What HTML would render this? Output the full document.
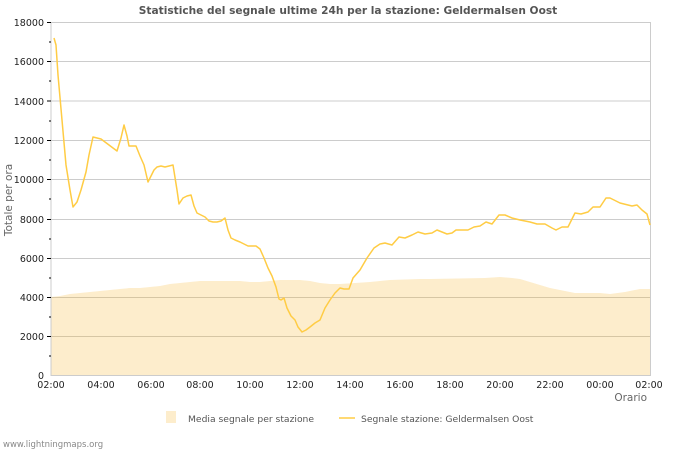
<!DOCTYPE html>
<html><head><meta charset="utf-8"><style>
html,body{margin:0;padding:0;background:#fff;width:700px;height:450px;overflow:hidden}
text{font-family:"DejaVu Sans","Liberation Sans",sans-serif}
</style></head><body>
<svg width="700" height="450" viewBox="0 0 700 450" xmlns="http://www.w3.org/2000/svg">
<text x="348" y="14" text-anchor="middle" font-size="10.6" font-weight="bold" fill="#555">Statistiche del segnale ultime 24h per la stazione: Geldermalsen Oost</text>
<polygon fill="#fdedcc" points="51,376 51,297 60,296 70,294 80,293 90,292 100,291 110,290 120,289 130,288 140,288 150,287 160,286 170,284 180,283 190,282 200,281 210,281 220,281 240,281 250,282 260,282 270,281 280,280 300,280 310,281 320,283 330,284 340,284 355,283 370,282 380,281 390,280 420,279 430,279 485,278 500,277 512,278 520,279 530,282 540,285 550,288 560,290 575,293 600,293 610,294 625,292 640,289 650,289 650,376"/>
<g stroke="#ccc" stroke-width="1">
<line x1="51" y1="22.5" x2="650" y2="22.5"/><line x1="51" y1="61.5" x2="650" y2="61.5"/><line x1="51" y1="101" x2="650" y2="101"/><line x1="51" y1="140.5" x2="650" y2="140.5"/><line x1="51" y1="179.5" x2="650" y2="179.5"/><line x1="51" y1="219.5" x2="650" y2="219.5"/><line x1="51" y1="258.5" x2="650" y2="258.5"/>
</g>
<g stroke="#d6c6a4" stroke-width="1"><line x1="51" y1="297.5" x2="650" y2="297.5"/><line x1="51" y1="336.5" x2="650" y2="336.5"/></g>
<line x1="650.5" y1="22" x2="650.5" y2="376" stroke="#ccc"/>
<line x1="51" y1="376" x2="51" y2="22" stroke="#ccc"/>
<line x1="51" y1="375.5" x2="650" y2="375.5" stroke="#ccc"/>
<polyline fill="none" stroke="#ffcc44" stroke-width="1.5" stroke-linejoin="round" points="54,38 56,45 58,75 62,120 66,165 70,190 73,207 77,202 81,190 86,172 89,155 93,137 97,138 101,139 105,142 109,145 113,148 117,151 121,138 124,125 127,136 129,146 133,146 136,146 140,156 144,165 148,182 151,176 154,170 157,167 161,166 165,167 169,166 173,165 177,190 179,204 183,198 187,196 191,195 194,206 197,213 201,215 205,217 209,221 213,222 217,222 221,221 225,218 228,230 231,238 235,240 240,242 244,244 248,246 252,246 256,246 260,249 264,258 268,268 272,276 276,287 279,299 281,300 284,298 287,308 291,316 295,320 298,327 302,332 306,330 310,327 315,323 320,320 325,308 330,300 335,293 340,288 344,289 349,289 353,278 360,270 367,258 374,248 380,244 385,243 392,245 399,237 405,238 412,235 418,232 425,234 432,233 437,230 442,232 447,234 452,233 456,230 468,230 474,227 480,226 486,222 492,224 499,215 505,215 512,218 520,220 530,222 537,224 545,224 552,228 556,230 562,227 568,227 575,213 581,214 588,212 593,207 600,207 606,198 610,198 614,200 620,203 628,205 632,206 637,205 642,210 647,214 650,225"/>
<g stroke="#000" stroke-width="1">
<line x1="47" y1="22.5" x2="51" y2="22.5"/><line x1="47" y1="61.5" x2="51" y2="61.5"/><line x1="47" y1="101" x2="51" y2="101"/><line x1="47" y1="140.5" x2="51" y2="140.5"/><line x1="47" y1="179.5" x2="51" y2="179.5"/><line x1="47" y1="219.5" x2="51" y2="219.5"/><line x1="47" y1="258.5" x2="51" y2="258.5"/><line x1="47" y1="297.5" x2="51" y2="297.5"/><line x1="47" y1="336.5" x2="51" y2="336.5"/>
<line x1="49" y1="42" x2="51" y2="42"/><line x1="49" y1="81" x2="51" y2="81"/><line x1="49" y1="121" x2="51" y2="121"/><line x1="49" y1="160" x2="51" y2="160"/><line x1="49" y1="199" x2="51" y2="199"/><line x1="49" y1="239" x2="51" y2="239"/><line x1="49" y1="278" x2="51" y2="278"/><line x1="49" y1="317" x2="51" y2="317"/><line x1="49" y1="356" x2="51" y2="356"/>
</g>
<g font-size="9.5" fill="#222" text-anchor="end">
<text x="44" y="26">18000</text><text x="44" y="65">16000</text><text x="44" y="105">14000</text><text x="44" y="144">12000</text><text x="44" y="183">10000</text><text x="44" y="223">8000</text><text x="44" y="262">6000</text><text x="44" y="301">4000</text><text x="44" y="340">2000</text><text x="44" y="379">0</text>
</g>
<g id="xt" stroke="#000" stroke-width="1"></g>
<g font-size="9.5" fill="#222" text-anchor="middle">
<text x="51" y="388">02:00</text><text x="101" y="388">04:00</text><text x="151" y="388">06:00</text><text x="200" y="388">08:00</text><text x="250" y="388">10:00</text><text x="300" y="388">12:00</text><text x="350" y="388">14:00</text><text x="400" y="388">16:00</text><text x="450" y="388">18:00</text><text x="500" y="388">20:00</text><text x="550" y="388">22:00</text><text x="600" y="388">00:00</text><text x="649" y="388">02:00</text>
</g>
<text x="647" y="401" font-size="10.5" fill="#666" text-anchor="end">Orario</text>
<text x="12" y="200" font-size="10.5" fill="#666" text-anchor="middle" transform="rotate(-90 12 200)">Totale per ora</text>
<rect x="166" y="411" width="10" height="12" fill="#fdedcc"/>
<text x="188" y="422" font-size="9.2" fill="#555">Media segnale per stazione</text>
<line x1="339" y1="418" x2="355" y2="418" stroke="#ffcc44" stroke-width="1.5"/>
<text x="361" y="422" font-size="9.2" fill="#555">Segnale stazione: Geldermalsen Oost</text>
<text x="3" y="447" font-size="8.5" fill="#888">www.lightningmaps.org</text>
<script>
var g=document.getElementById('xt'),s='';
for(var i=0;i<=48;i++){var x=51+i*599/48;var h=(i%4==0)?6:3;s+='<line x1="'+x.toFixed(1)+'" y1="'+(376-h)+'" x2="'+x.toFixed(1)+'" y2="376"/>';}
g.innerHTML=s;
</script>
</svg>
</body></html>
